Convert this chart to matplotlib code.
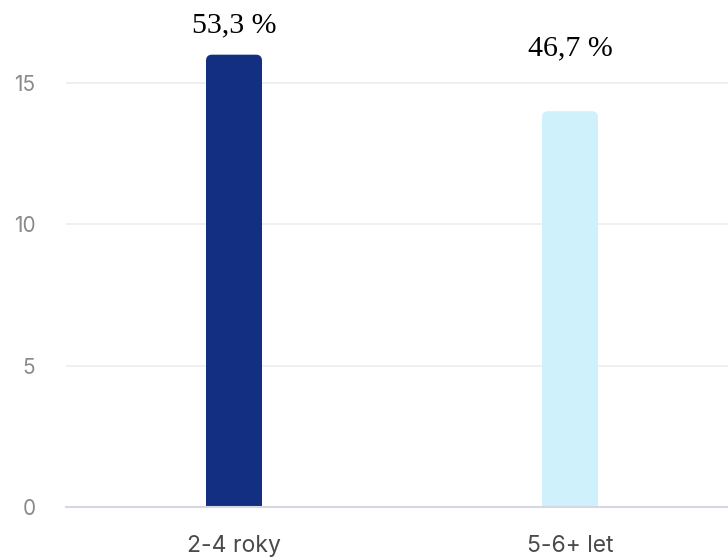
import numpy as np
import matplotlib.pyplot as plt
from matplotlib.patches import FancyBboxPatch

# data
categories = ["2-4 roky", "5-6+ let"]
counts = [16, 14]
pct_labels = ["53,3 %", "46,7 %"]
bar_colors = ["#122f82", "#cef1fb"]
y_ticks = [0, 5, 10, 15]

# label offsets above bar tops (pixels), reference puts them unevenly
label_offsets_px = [22, 56]

DPI = 100
fig = plt.figure(figsize=(7.28, 5.6), dpi=DPI)
ax = fig.add_axes([66 / 728, 1 - 507 / 560, 672 / 728, (17 * 28.27) / 560])

x = np.arange(len(categories))
ax.set_xlim(-0.5, 1.5)
ax.set_ylim(0, 17)

bar_w = 56 / 336
# px per data unit, used to keep the rounded corners circular
px_x = 336.0
px_y = 28.27
rad = 6 / px_x
for xi, val, col in zip(x, counts, bar_colors):
    p = FancyBboxPatch((xi - bar_w / 2 + rad, -2), bar_w - 2 * rad, val + 2 - rad * px_x / px_y,
                       boxstyle=f"round,pad={rad}", mutation_aspect=px_x / px_y,
                       facecolor=col, edgecolor="none", zorder=3)
    ax.add_patch(p)

for xi, val, lab, off in zip(x, counts, pct_labels, label_offsets_px):
    ax.annotate(lab, xy=(xi, val), xytext=(0, off * 72 / DPI), textcoords="offset points",
                ha="center", va="baseline", fontsize=21.5, family="Liberation Serif",
                color="black", annotation_clip=False)

ax.set_yticks(y_ticks)
ax.set_yticklabels([str(t) for t in y_ticks], fontsize=15, color="#8a8a8a", family="Inter")
ax.set_xticks(x)
ax.set_xticklabels(categories, fontsize=16.5, color="#4a4a4a", family="Inter")
ax.tick_params(axis="y", length=0, pad=22)
ax.tick_params(axis="x", length=0, pad=20)

ax.grid(axis="y", color="#ececec", linewidth=1.2, zorder=0)
ax.set_axisbelow(True)
for s in ["top", "right", "left"]:
    ax.spines[s].set_visible(False)
ax.spines["bottom"].set_color("#d3d8e2")
ax.spines["bottom"].set_linewidth(1.5)
ax.spines["bottom"].set_zorder(4)

fig.savefig("out.png", dpi=DPI)
